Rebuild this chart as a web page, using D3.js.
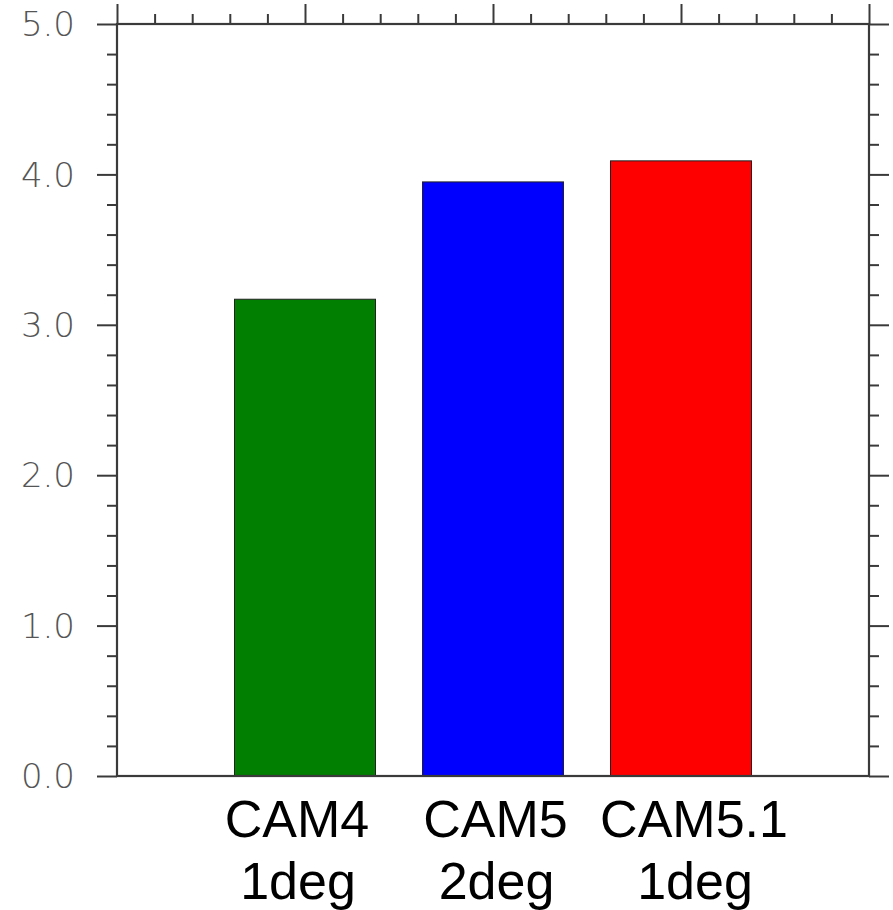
<!DOCTYPE html>
<html>
<head>
<meta charset="utf-8">
<script src="https://cdn.jsdelivr.net/npm/d3@7"></script>
<style>
  html, body { margin: 0; padding: 0; background: #fff; }
  svg { display: block; }
</style>
</head>
<body>
<svg id="chart" width="893" height="910"></svg>
<script>
// data
var models =      ['CAM4', 'CAM5', 'CAM5.1']
var resolutions = ['1deg', '2deg', '1deg']
var values =      [3.17, 3.95, 4.09]
var barColors =   ['#007f00', '#0000ff', '#ff0000']
var yMajor =      [0, 1, 2, 3, 4, 5]
var yLabels =     ['0.0', '1.0', '2.0', '3.0', '4.0', '5.0']

var plotLeft = 117, plotRight = 869, plotTop = 24, plotBottom = 776
var axisColor = '#3a3a3a'

var svg = d3.select('#chart')

var x = d3.scaleLinear().domain([0, 4]).range([plotLeft, plotRight])
var y = d3.scaleLinear().domain([0, 5]).range([plotBottom, plotTop])
// category labels sit a little wider apart than the bars
var xLabel = d3.scaleLinear().domain([1, 3]).range([297, 694])

var yMinor = d3.range(0, 5.001, 0.2).filter(function(v) { return Math.abs(v - Math.round(v)) > 1e-6 })
var xMajor = [0, 1, 2, 3, 4]
var xMinor = d3.range(0, 4.001, 0.2).filter(function(v) { return Math.abs(v - Math.round(v)) > 1e-6 })

function styleAxis(g) {
    g.selectAll('.domain').remove()
    g.selectAll('line').attr('stroke', axisColor).attr('stroke-width', 2)
    g.selectAll('text').remove()
}

// bars first, frame over them
var barW = x(0.75) - x(0)
svg.append('g').selectAll('rect')
    .data(values)
    .join('rect')
    .attr('x', function(d, i) { return x(i + 1) - barW / 2 })
    .attr('y', function(d) { return y(d) })
    .attr('width', barW)
    .attr('height', function(d) { return y(0) - y(d) })
    .attr('fill', function(d, i) { return barColors[i] })
    .attr('stroke', '#222')
    .attr('stroke-width', 1)

// left axis (ticks outside)
svg.append('g').attr('transform', 'translate(' + plotLeft + ',0)')
    .call(d3.axisLeft(y).tickValues(yMajor).tickSize(20).tickSizeOuter(0)).call(styleAxis)
svg.append('g').attr('transform', 'translate(' + plotLeft + ',0)')
    .call(d3.axisLeft(y).tickValues(yMinor).tickSize(10).tickSizeOuter(0)).call(styleAxis)

// right axis
svg.append('g').attr('transform', 'translate(' + plotRight + ',0)')
    .call(d3.axisRight(y).tickValues(yMajor).tickSize(20).tickSizeOuter(0)).call(styleAxis)
svg.append('g').attr('transform', 'translate(' + plotRight + ',0)')
    .call(d3.axisRight(y).tickValues(yMinor).tickSize(10).tickSizeOuter(0)).call(styleAxis)

// top axis
svg.append('g').attr('transform', 'translate(0,' + plotTop + ')')
    .call(d3.axisTop(x).tickValues(xMajor).tickSize(20).tickSizeOuter(0)).call(styleAxis)
svg.append('g').attr('transform', 'translate(0,' + plotTop + ')')
    .call(d3.axisTop(x).tickValues(xMinor).tickSize(10).tickSizeOuter(0)).call(styleAxis)

// frame
svg.append('rect')
    .attr('x', plotLeft).attr('y', plotTop)
    .attr('width', plotRight - plotLeft).attr('height', plotBottom - plotTop)
    .attr('fill', 'none')
    .attr('stroke', axisColor)
    .attr('stroke-width', 2.2)

// y tick labels
svg.append('g').selectAll('text')
    .data(yMajor)
    .join('text')
    .attr('x', 75)
    .attr('y', function(d) { return y(d) })
    .attr('dy', '0.36em')
    .attr('text-anchor', 'end')
    .attr('font-family', 'DejaVu Sans, sans-serif')
    .attr('font-weight', 200)
    .attr('font-size', 34)
    .attr('fill', '#555')
    .text(function(d, i) { return yLabels[i] })

// category labels
var cats = svg.append('g').selectAll('text')
    .data(models)
    .join('text')
    .attr('text-anchor', 'middle')
    .attr('font-family', 'Liberation Sans, Arial, sans-serif')
    .attr('font-size', 52)
    .attr('fill', '#000')
cats.append('tspan')
    .attr('x', function(d, i) { return xLabel(i + 1) })
    .attr('y', 837)
    .text(function(d) { return d })
cats.append('tspan')
    .attr('x', function(d, i) { return xLabel(i + 1) + 1 })
    .attr('y', 899)
    .text(function(d, i) { return resolutions[i] })
</script>
</body>
</html>
